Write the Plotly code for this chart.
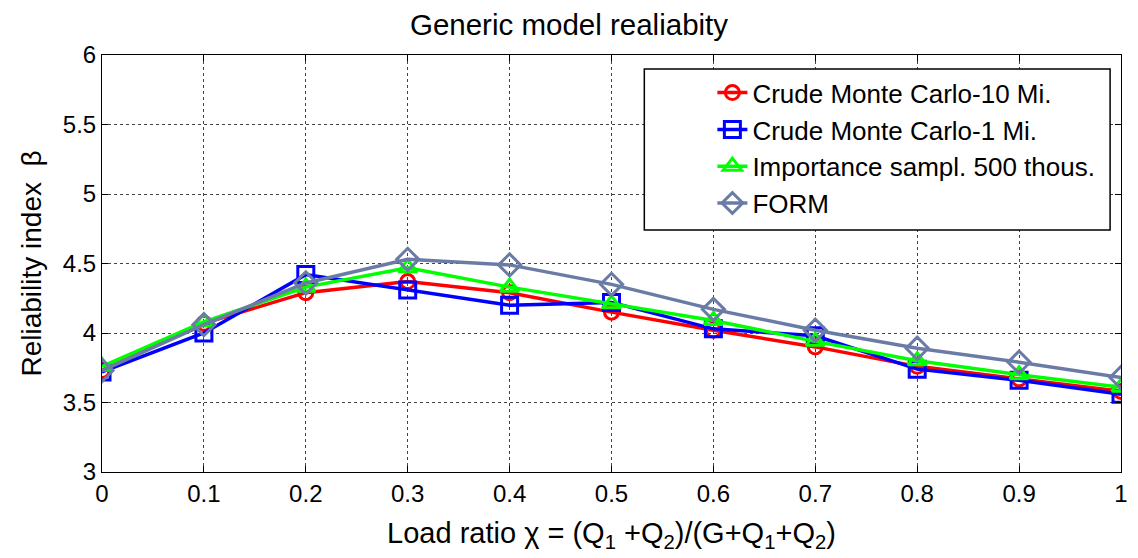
import plotly.graph_objects as go

x = [0, 0.1, 0.2, 0.3, 0.4, 0.5, 0.6, 0.7, 0.8, 0.9, 1.0]
crude_10mi = [3.73, 4.07, 4.29, 4.37, 4.29, 4.15, 4.02, 3.90, 3.76, 3.67, 3.58]
crude_1mi = [3.72, 4.00, 4.42, 4.31, 4.20, 4.22, 4.03, 3.98, 3.74, 3.66, 3.56]
importance = [3.76, 4.08, 4.33, 4.47, 4.33, 4.21, 4.09, 3.94, 3.80, 3.70, 3.61]
form = [3.73, 4.06, 4.36, 4.53, 4.49, 4.35, 4.17, 4.02, 3.89, 3.79, 3.68]
x_ticktext = ["0", "0.1", "0.2", "0.3", "0.4", "0.5", "0.6", "0.7", "0.8", "0.9", "1"]
y_tickvals = [3, 3.5, 4, 4.5, 5, 5.5, 6]
y_ticktext = ["3", "3.5", "4", "4.5", "5", "5.5", "6"]

names = ["Crude Monte Carlo-10 Mi.", "Crude Monte Carlo-1 Mi.",
         "Importance sampl. 500 thous.", "FORM"]
colors = ["#FF0000", "#0000FF", "#00FF00", "#6A7CA6"]
symbols = ["circle-open", "square-open", "triangle-up-open", "diamond-open"]
sizes = [14, 16, 16, 17]
series = [crude_10mi, crude_1mi, importance, form]

fig = go.Figure()
for name, ys, c, s, sz in zip(names, series, colors, symbols, sizes):
    fig.add_trace(go.Scatter(
        x=x, y=ys, name=name, mode="lines+markers",
        line=dict(color=c, width=3.5),
        marker=dict(symbol=s, size=sz, color=c, line=dict(color=c, width=3)),
    ))

font = "Liberation Sans, Arial, sans-serif"
axis_common = dict(
    showline=True, linecolor="black", linewidth=1, mirror="allticks",
    ticks="inside", ticklen=6, tickcolor="black",
    showgrid=True, gridcolor="#444444", griddash="dot", gridwidth=1,
    zeroline=False, tickfont=dict(size=24, color="black", family=font),
)

# legend frame (white box with black border), drawn as a paper-referenced shape
fig.add_shape(type="rect", xref="paper", yref="paper",
              x0=0.5322, x1=0.9893, y0=0.5803, y1=0.9664,
              line=dict(color="black", width=1.5), fillcolor="white", layer="above")

fig.update_layout(
    width=1138, height=558,
    margin=dict(l=102, r=10, t=55, b=86),
    paper_bgcolor="white", plot_bgcolor="white",
    font=dict(family=font, color="black"),
    title=dict(text="Generic model realiabity", x=0.5, xanchor="center",
               y=0.955, yanchor="middle", font=dict(size=29.5, color="black")),
    xaxis=dict(range=[0, 1], tickmode="array",
               tickvals=x, ticktext=x_ticktext,
               title=dict(text="Load ratio χ = (Q<sub>1</sub> +Q<sub>2</sub>)/(G+Q<sub>1</sub>+Q<sub>2</sub>)",
                          font=dict(size=29), standoff=16),
               **axis_common),
    yaxis=dict(range=[3, 6], tickmode="array",
               tickvals=y_tickvals, ticktext=y_ticktext,
               title=dict(text="Reliability index  β", font=dict(size=28), standoff=13),
               **axis_common),
    legend=dict(x=0.599, y=0.966, xanchor="left", yanchor="top",
                bgcolor="rgba(0,0,0,0)", borderwidth=0,
                font=dict(size=26, color="black"), tracegroupgap=0),
    showlegend=True,
)

fig.write_html("out.html")
